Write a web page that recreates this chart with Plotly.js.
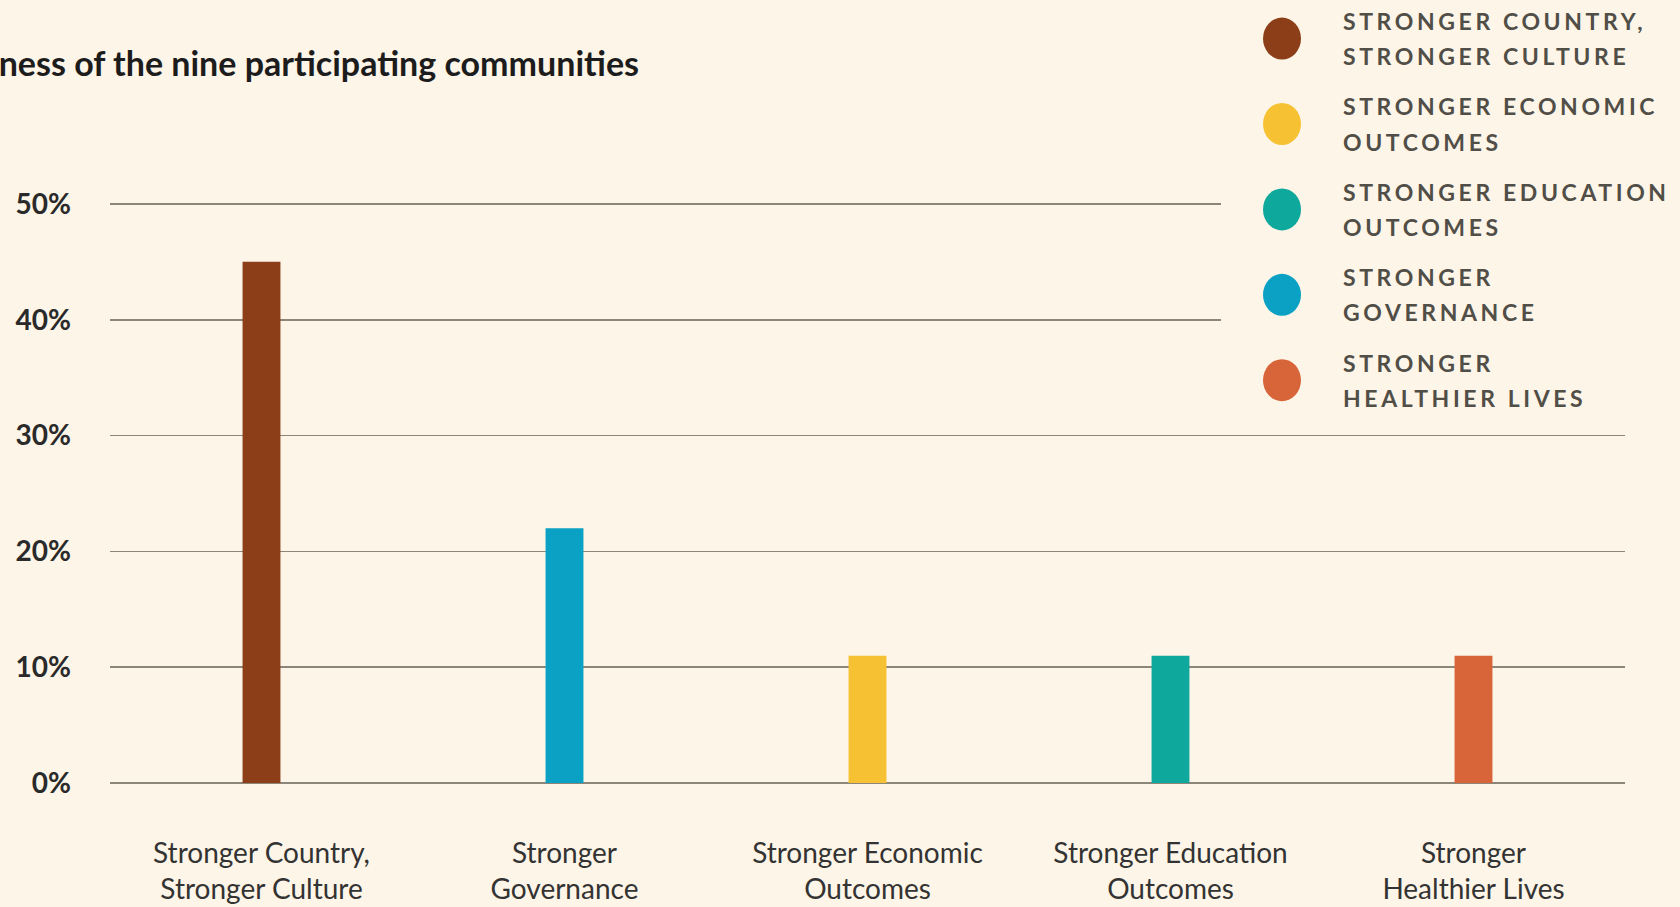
<!DOCTYPE html>
<html>
<head>
<meta charset="utf-8">
<script src="https://cdn.plot.ly/plotly-3.0.1.min.js"></script>
<style>
  html, body { margin: 0; padding: 0; background: #fdf5e7; }
  #chart { width: 1680px; height: 907px; }
  .annotation-text { letter-spacing: 3.6px; }
</style>
</head>
<body>
<div id="chart"></div>
<script>
// ---- data ----
const categories = [
  "Stronger Country,<br>Stronger Culture",
  "Stronger<br>Governance",
  "Stronger Economic<br>Outcomes",
  "Stronger Education<br>Outcomes",
  "Stronger<br>Healthier Lives"
];
const shares = [45, 22, 11, 11, 11];
const barColors = ["#8b3e17", "#0aa1c5", "#f6c234", "#0ea89c", "#d8653a"];
const yTicks = [0, 10, 20, 30, 40, 50];
const yTickLabels = ["0%", "10%", "20%", "30%", "40%", "50%"];
const legendOrder = [0, 2, 3, 1, 4];
const legendLines = [
  ["STRONGER COUNTRY,", "STRONGER CULTURE"],
  ["STRONGER", "GOVERNANCE"],
  ["STRONGER ECONOMIC", "OUTCOMES"],
  ["STRONGER EDUCATION", "OUTCOMES"],
  ["STRONGER", "HEALTHIER LIVES"]
];
const titleText = "ness of the nine participating communities";

// ---- layout geometry ----
const W = 1680, H = 907;
const L = 110, R = 55, T = 196.6, B = 116.8;
const plotW = W - L - R, plotH = H - T - B;
const px2x = px => (px - L) / plotW;
const px2y = py => (H - B - py) / plotH;
const BG = "#fdf5e7";

const traces = categories.map((c, i) => ({
  type: "bar",
  x: [c],
  y: [shares[i]],
  width: 0.125,
  marker: { color: barColors[i], line: { width: 0 } },
  showlegend: false,
  hoverinfo: "x+y"
}));

const shapes = [{
  type: "rect", xref: "paper", yref: "paper", layer: "above",
  x0: px2x(1221), x1: px2x(W), y0: px2y(360), y1: px2y(0),
  fillcolor: BG, line: { width: 0 }
}];
const annotations = [];
legendOrder.forEach((ci, k) => {
  const cy = 38 + 85.5 * k;
  shapes.push({
    type: "circle", xref: "paper", yref: "paper", layer: "above",
    xsizemode: "pixel", ysizemode: "pixel",
    xanchor: px2x(1282), yanchor: px2y(cy),
    x0: -19, x1: 19, y0: -21, y1: 21,
    fillcolor: barColors[ci], line: { width: 0 }
  });
  legendLines[ci].forEach((t, j) => {
    annotations.push({
      xref: "paper", yref: "paper", x: px2x(1341), y: px2y(cy + (j === 0 ? -17.6 : 17.6)),
      xanchor: "left", yanchor: "middle", showarrow: false, text: t,
      font: { family: "Lato", size: 23, weight: 700, color: "#514e48" }
    });
  });
});

const layout = {
  width: W, height: H,
  paper_bgcolor: BG, plot_bgcolor: BG,
  margin: { l: L, r: R, t: T, b: B, pad: 0 },
  barmode: "overlay",
  title: {
    text: titleText, xref: "container", yref: "container",
    x: 639 / W, xanchor: "right", y: 1 - 64 / H, yanchor: "middle",
    font: { family: "Lato", size: 34, weight: 700, color: "#1c1c1c" }
  },
  xaxis: {
    type: "category", categoryorder: "array", categoryarray: categories,
    showgrid: false, zeroline: false, showline: false, ticks: "",
    ticklabelstandoff: 44,
    tickfont: { family: "Lato", size: 28, color: "#333333" }
  },
  yaxis: {
    range: [-0.6, 50.6], tickmode: "array", tickvals: yTicks, ticktext: yTickLabels,
    showgrid: true, gridcolor: "#8c857a", gridwidth: 1.5,
    zeroline: false, showline: false, ticks: "",
    ticklabelstandoff: 38,
    tickfont: { family: "Lato", size: 28, weight: 700, color: "#2a2a2a" }
  },
  shapes: shapes,
  annotations: annotations
};

Plotly.newPlot("chart", traces, layout, { displayModeBar: false, staticPlot: true });
</script>
</body>
</html>
